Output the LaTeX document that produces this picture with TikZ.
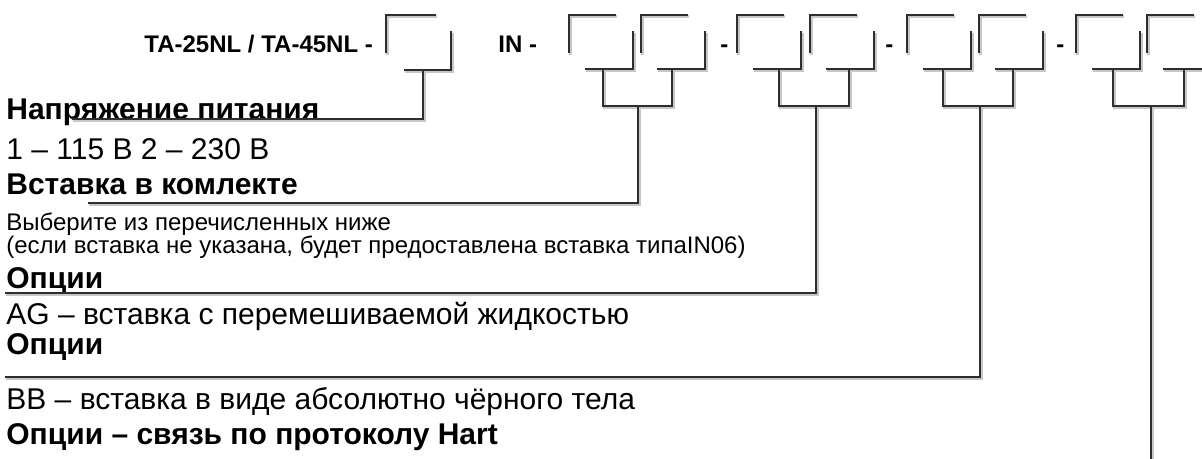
\documentclass[tikz,border=0pt]{standalone}
\usepackage{fontspec}
\setmainfont{Liberation Sans}
\begin{document}
\begin{tikzpicture}[x=0.5pt,y=-0.5pt,
  ln/.style={line width=1.25pt, draw=black!82, line join=miter,
    preaction={draw=black!22, line width=1.4pt, transform canvas={shift={(0.6pt,-0.8pt)}}}},
  ttl/.style={anchor=base west, inner sep=0pt, font=\fontsize{12}{14}\selectfont\bfseries},
  hd/.style={anchor=base west, inner sep=0pt, font=\fontsize{15}{17}\selectfont\bfseries},
  tx/.style={anchor=base west, inner sep=0pt, font=\fontsize{15}{17}\selectfont},
  sm/.style={anchor=base west, inner sep=0pt, font=\fontsize{12}{14}\selectfont}]
\useasboundingbox[fill=white] (0,0) rectangle (1202,459);

% texts
\node[ttl] (title) at (144,53) {TA-25NL / TA-45NL -};
\node[ttl] (in) at (498,53) {IN -};
\node[ttl] (d1) at (720,53) {-};
\node[ttl] (d2) at (885,53) {-};
\node[ttl] (d3) at (1056,53) {-};

\node[hd] (t1) at (6,120) {Напряжение питания};
\node[tx] (t2) at (6,160) {1 – 115 В 2 – 230 В};
\node[hd] (t3) at (6,195) {Вставка в комлекте};
\node[sm] (t4) at (6,231) {Выберите из перечисленных ниже};
\node[sm] (t5) at (6,254) {(если вставка не указана, будет предоставлена вставка типаIN06)};
\node[hd] (t6) at (6,288) {Опции};
\node[tx] (t7) at (6,324) {AG – вставка с перемешиваемой жидкостью};
\node[hd] (t8) at (6,354) {Опции};
\node[tx] (t9) at (6,409) {BB – вставка в виде абсолютно чёрного тела};
\node[hd] (t10) at (6,444) {Опции – связь по протоколу Hart};

% first box (voltage)
\draw[ln] (386,53) -- (386,15) -- (436,15);
\draw[ln] (404,70) -- (451,70) -- (451,31);
\coordinate (s1) at (423,70);
\coordinate (e1) at (72,119);
\draw[ln] (s1) |- (e1);

% sub-boxes: left x
\foreach \L in {569, 641, 737, 810, 907, 979, 1076, 1147}{
  \draw[ln] (\L,53) -- (\L,15) -- (\L+47,15);
  \draw[ln] (\L+16,69) -- (\L+64,69) -- (\L+64,31);
}
% group connectors
\foreach \a/\b in {603/672, 779/849, 943/1013, 1113/1184}{
  \draw[ln] (\a,69) -- (\a,106) -- (\b,106) -- (\b,69);
}
\coordinate (g2) at (638,106);
\coordinate (g3) at (816,106);
\coordinate (g4) at (980,106);
\coordinate (g5) at (1151,106);
\coordinate (e2) at (88,203);
\coordinate (e3) at (5,293);
\coordinate (e4) at (5,377);
\coordinate (e5) at (1151,462);
\draw[ln] (g2) |- (e2);
\draw[ln] (g3) |- (e3);
\draw[ln] (g4) |- (e4);
\draw[ln] (g5) -- (e5);
\end{tikzpicture}
\end{document}
